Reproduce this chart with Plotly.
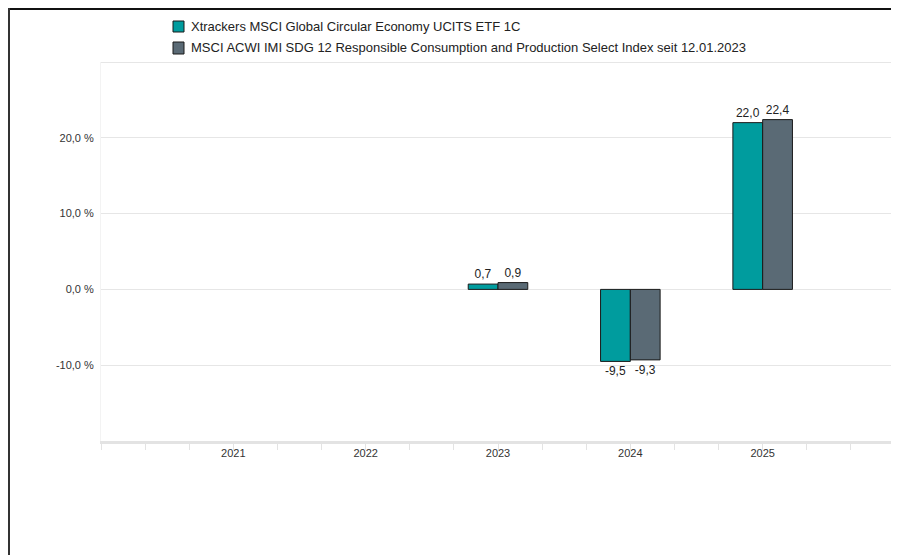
import plotly.graph_objects as go

years = [2021, 2022, 2023, 2024, 2025]
etf_values = [None, None, 0.7, -9.5, 22.0]
index_values = [None, None, 0.9, -9.3, 22.4]
etf_name = "Xtrackers MSCI Global Circular Economy UCITS ETF 1C"
index_name = "MSCI ACWI IMI SDG 12 Responsible Consumption and Production Select Index seit 12.01.2023"
series_names = [etf_name, index_name]
series_colors = ["#009C9E", "#5A6A75"]
y_ticks = [-10, 0, 10, 20]
y_ticktext = ["-10,0 %", "0,0 %", "10,0 %", "20,0 %"]
y_top = 30

def fmt(v):
    return "" if v is None else f"{v:.1f}".replace(".", ",")

# page body has an 8px margin, so the figure is sized to end at the window edge
W, H = 891, 547
L, R, T, B = 93, 4, 54, 114
pw = W - L - R
ph = H - T - B
def px(xp): return (xp - L) / pw
def py(yp): return (H - B - yp) / ph

fig = go.Figure()
for name, vals, col in zip(series_names, [etf_values, index_values], series_colors):
    fig.add_trace(go.Bar(
        x=years, y=vals, name=name,
        marker=dict(color=col, line=dict(color="#1a1a1a", width=1)),
        text=[fmt(v) for v in vals], textposition="outside",
        textfont=dict(size=12, color="#222"), cliponaxis=False,
        showlegend=False,
    ))

fig.update_layout(
    width=W, height=H,
    margin=dict(l=L, r=R, t=T, b=B),
    paper_bgcolor="white", plot_bgcolor="white",
    barmode="group", bargap=0.55, bargroupgap=0,
    font=dict(family="Liberation Sans, Arial, sans-serif", size=11, color="#333"),
    xaxis=dict(
        range=[2020, 2026], tickvals=years, ticktext=[str(y) for y in years],
        ticks="", showgrid=False, zeroline=False,
        showline=True, linecolor="#e3e3e3", linewidth=3,
        tickfont=dict(size=11, color="#333"),
        minor=dict(tick0=2020, dtick=1/3, ticks="outside", ticklen=6,
                   tickcolor="#e3e3e3", tickwidth=1, showgrid=False),
    ),
    yaxis=dict(
        range=[-20, y_top], tickvals=y_ticks, ticktext=y_ticktext,
        showgrid=True, gridcolor="#e6e6e6", gridwidth=1,
        zeroline=False, showline=True, linecolor="#f3f3f3", linewidth=1,
        ticks="", ticklabelstandoff=4,
        tickfont=dict(size=11, color="#333"),
    ),
)

# top gridline at the range edge
fig.add_shape(type="line", xref="paper", yref="y", x0=0, x1=1, y0=y_top, y1=y_top,
              line=dict(color="#e6e6e6", width=2), layer="below")

# custom legend
legend_rows = [(13, 24, 18.5), (34, 46, 39.5)]
for (ya, yb, yc), name, col in zip(legend_rows, series_names, series_colors):
    fig.add_shape(type="rect", xref="paper", yref="paper",
                  x0=px(165), x1=px(176), y0=py(yb), y1=py(ya),
                  fillcolor=col, line=dict(color="#1a1a1a", width=1))
    fig.add_annotation(xref="paper", yref="paper", x=px(181), y=py(yc),
                       xanchor="left", yanchor="middle", showarrow=False,
                       text=name, font=dict(size=13, color="#222"))

# screenshot frame lines (top and left)
fig.add_shape(type="line", xref="paper", yref="paper",
              x0=px(0), x1=px(W), y0=py(1), y1=py(1),
              line=dict(color="#111", width=2), layer="above")
fig.add_shape(type="line", xref="paper", yref="paper",
              x0=px(1), x1=px(1), y0=py(0), y1=py(H),
              line=dict(color="#333", width=2), layer="above")

fig.write_html("out.html")
